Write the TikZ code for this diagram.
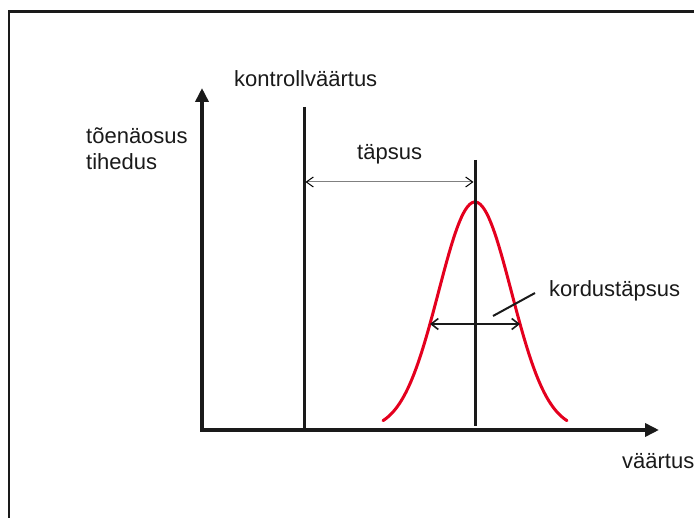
\documentclass[tikz,border=0pt]{standalone}
\usepackage{fontspec}
\setmainfont{Liberation Sans}
\usepackage{tikz}
\usetikzlibrary{arrows.meta,positioning,calc}
\definecolor{curvered}{RGB}{228,0,30}
\definecolor{ink}{RGB}{26,26,26}

\tikzset{
  lbl/.style={inner sep=0pt, anchor=base west, text=ink,
              font=\fontsize{22}{26}\selectfont},
  axis/.style={draw=ink, line width=4pt, -{Triangle[length=14pt,width=13pt]}},
  mark line/.style={draw=ink, line width=3pt},
  dim/.style={draw=gray, line width=1pt, {Straight Barb[black,length=7pt,width=10pt]}-{Straight Barb[black,length=7pt,width=10pt]}},
  spread/.style={draw=ink, line width=1.6pt, {Straight Barb[length=7pt,width=11pt]}-{Straight Barb[length=7pt,width=11pt]}}
}

\begin{document}
\begin{tikzpicture}[x=1pt, y=-1pt]
  \useasboundingbox (0,0) rectangle (694,518);
  \draw[draw=ink, line width=2.5pt] (9,518) -- (9,11.5) -- (694,11.5);

  \coordinate (O) at (202,430);
  \coordinate (ytop) at (202,88);
  \coordinate (xend) at (659,430);
  \draw[axis] (O) -- (ytop);
  \draw[axis] ($(O)+(-2,0)$) -- (xend);

  \coordinate (ctrl top) at (304,107);
  \coordinate (ctrl bot) at (304,430);
  \coordinate (mean top) at (475,160);
  \coordinate (mean bot) at (475,426);
  \draw[mark line] (ctrl top) -- (ctrl bot);
  \draw[curvered, line width=3pt, line cap=round]
    plot[domain=-92:92, samples=90] ({475+\x},{430-228*exp(-(\x)*(\x)/2650)});
  \draw[mark line] (mean top) -- (mean bot);

  \coordinate (bias l) at (305.5,182);
  \coordinate (bias r) at (473.5,182);
  \draw[dim] (bias l) -- (bias r);

  \coordinate (rep l) at (430,324);
  \coordinate (rep r) at (520,324);
  \draw[spread] (rep l) -- (rep r);

  \node[lbl] (ctrl) at (234,87) {kontrollväärtus};
  \node[lbl] (ylab1) at (86,144) {tõenäosus};
  \node[lbl] (ylab2) at (86,170) {tihedus};
  \node[lbl] (bias) at (357,160) {täpsus};
  \node[lbl] (rep) at (549,297) {kordustäpsus};
  \node[lbl] (xlab) at (622,469) {väärtus};

  \coordinate (lead a) at (493,316);
  \coordinate (lead b) at (535,293);
  \draw[draw=ink, line width=2pt] (lead a) -- (lead b);
\end{tikzpicture}
\end{document}
